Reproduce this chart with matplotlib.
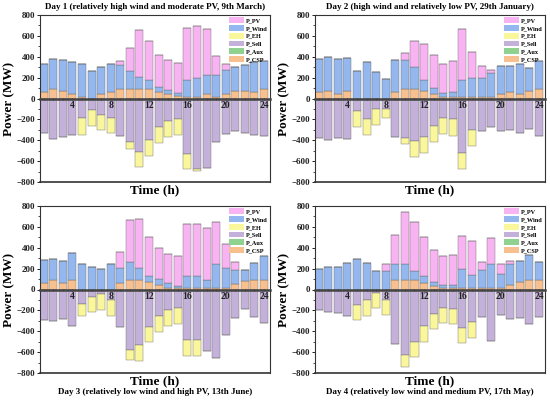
import numpy as np
import matplotlib
matplotlib.use("Agg")
import matplotlib.pyplot as plt
from matplotlib.ticker import MultipleLocator
from matplotlib.patches import Patch

plt.rcParams['font.family'] = ['Liberation Serif', 'DejaVu Serif']
plt.rcParams['font.weight'] = 'bold'

hours = list(range(1, 25))
series_names = ["P_PV", "P_Wind", "P_EH", "P_Sell", "P_Aux", "P_CSP"]
colors = {"P_PV": "#F8B4F2", "P_Wind": "#93B7EE", "P_EH": "#FAF69C",
          "P_Sell": "#C4B1D9", "P_Aux": "#8FD18F", "P_CSP": "#F8C08E"}

titles = ["Day 1 (relatively high wind and moderate PV, 9th March)",
          "Day 2 (high wind and relatively low PV, 29th January)",
          "Day 3 (relatively low wind and high PV, 13th June)",
          "Day 4 (relatively low wind and medium PV, 17th May)"]

# ---- Day 1 ----
d1_csp = [65,95,75,45,10,0,40,65,95,95,95,95,65,40,20,10,10,40,10,45,70,70,65,95]
d1_wind = [265,288,290,300,325,260,260,265,225,165,115,80,45,45,35,165,185,185,215,225,235,255,285,265]
d1_pv = [0,0,0,0,0,0,0,0,35,220,450,380,310,280,285,505,500,445,185,65,0,0,0,0]
d1_sell = [330,385,370,350,185,110,155,185,355,415,510,400,275,220,195,530,680,670,415,340,310,335,350,360]
d1_eh = [0,0,0,0,160,150,150,150,0,65,150,155,150,150,150,150,15,0,0,0,0,0,0,0]
d1_aux = [0]*24

# ---- Day 2 ----
d2_csp = [65,75,45,75,0,0,0,0,65,95,95,70,40,10,10,10,10,10,10,45,65,45,75,95]
d2_wind = [310,325,330,310,265,350,255,185,300,270,210,105,65,45,55,165,185,185,230,270,245,285,220,265]
d2_pv = [0,0,0,0,0,0,0,0,0,70,250,345,310,280,290,495,255,115,35,0,0,0,0,0]
d2_sell = [375,400,380,385,115,200,105,100,365,380,410,370,265,185,200,525,300,315,275,315,305,335,295,360]
d2_eh = [0,0,0,0,155,150,150,90,0,55,150,150,150,155,155,150,155,0,0,0,0,0,0,0]
d2_aux = [0]*24

# ---- Day 3 ----
d3_csp = [65,95,65,95,0,0,0,0,65,95,95,70,40,10,10,10,10,10,10,10,50,80,95,95]
d3_wind = [220,200,205,250,245,215,195,240,140,165,110,55,60,50,25,115,120,80,235,200,135,105,155,225]
d3_pv = [0,0,0,0,0,0,0,0,150,410,475,375,300,280,285,505,500,495,405,230,80,0,0,0]
d3_sell = [290,300,280,350,135,70,45,100,360,575,535,355,255,195,180,485,485,590,655,440,270,190,260,325]
d3_eh = [0,0,0,0,115,145,155,150,0,100,150,150,150,150,150,150,155,0,0,0,0,0,0,0]
d3_aux = [0]*24

# ---- Day 4 ----
d4_csp = [0,0,0,0,0,0,0,0,90,95,95,65,35,10,10,10,10,10,10,10,45,75,95,95]
d4_wind = [200,215,220,250,290,250,175,180,155,145,80,60,35,35,35,185,130,175,230,135,200,195,240,170]
d4_pv = [0,0,0,0,0,0,0,60,275,505,475,375,305,280,285,320,320,80,250,95,30,0,0,0]
d4_sell = [200,220,225,255,145,100,30,100,520,630,505,350,230,175,185,365,310,265,495,240,280,275,335,265]
d4_eh = [0,0,0,0,145,155,145,140,0,115,145,155,150,150,145,150,150,0,0,0,0,0,0,0]
d4_aux = [0]*24

days = [
    (d1_csp, d1_wind, d1_pv, d1_sell, d1_eh, d1_aux),
    (d2_csp, d2_wind, d2_pv, d2_sell, d2_eh, d2_aux),
    (d3_csp, d3_wind, d3_pv, d3_sell, d3_eh, d3_aux),
    (d4_csp, d4_wind, d4_pv, d4_sell, d4_eh, d4_aux),
]

W, H = 550, 401
fig = plt.figure(figsize=(W/100, H/100), dpi=100)

# panel boxes in pixels: left, right, top, bottom
boxes = [(40, 270, 15, 182), (315, 545, 15, 182), (40, 270, 206, 373), (315, 545, 206, 373)]
title_y = [7, 7, 392.5, 392.5]
xlabel_y = [190, 190, 381.5, 381.5]

edge = dict(edgecolor="#6a6a6a", linewidth=0.3)
bw = 0.84
for i, (box, data) in enumerate(zip(boxes, days)):
    l, r, t, b = box
    ax = fig.add_axes([l/W, 1-b/H, (r-l)/W, (b-t)/H])
    csp, wind, pv, sell, eh, aux = [np.array(a, dtype=float) for a in data]
    x = np.array(hours)
    ax.bar(x, csp, bw, color=colors["P_CSP"], **edge)
    ax.bar(x, wind, bw, bottom=csp, color=colors["P_Wind"], **edge)
    ax.bar(x, pv, bw, bottom=csp+wind, color=colors["P_PV"], **edge)
    ax.bar(x, aux, bw, bottom=csp+wind+pv, color=colors["P_Aux"], **edge)
    ax.bar(x, -sell, bw, color=colors["P_Sell"], **edge)
    ax.bar(x, -eh, bw, bottom=-sell, color=colors["P_EH"], **edge)

    ax.set_xlim(0.62, 24.62)
    ax.set_ylim(-800, 800)
    ax.spines['bottom'].set_position(('data', 0))
    ax.spines['bottom'].set_linewidth(1.8)
    ax.spines['bottom'].set_color('#444444')
    ax.spines['bottom'].set_zorder(5)
    for s in ['left', 'right', 'top']:
        ax.spines[s].set_linewidth(0.8)
        ax.spines[s].set_color('#333333')
    ax.plot([0, 1], [0, 0], transform=ax.transAxes, color='#333333', lw=1.2, clip_on=False)

    ax.xaxis.set_major_locator(MultipleLocator(4))
    ax.xaxis.set_minor_locator(MultipleLocator(1))
    ax.set_xticks([4, 8, 12, 16, 20, 24])
    ax.tick_params(axis='x', which='both', direction='inout', length=2, width=0.6, pad=1,
                   labelsize=7, colors='#222222')
    ax.set_yticks(np.arange(-800, 801, 200))
    ax.yaxis.set_minor_locator(MultipleLocator(100))
    ax.tick_params(axis='y', which='major', direction='out', length=2.5, width=0.6, pad=1,
                   labelsize=6.5)
    ax.tick_params(axis='y', which='minor', direction='out', length=1.5, width=0.5)
    for lab in ax.get_xticklabels() + ax.get_yticklabels():
        lab.set_fontweight('bold')
        lab.set_color('#222222')

    handles = [Patch(facecolor=colors[n], edgecolor='none') for n in series_names]
    ax.legend(handles, series_names, loc='upper right', frameon=False, fontsize=4.5,
              handlelength=2.4, handleheight=1.05, handletextpad=0.3, labelspacing=0.28,
              borderaxespad=0.15, borderpad=0.2)

    cx = (l + r) / 2 / W
    fig.text(cx, 1 - xlabel_y[i]/H, "Time (h)", ha='center', va='center', fontsize=9.5,
             fontweight='bold')
    fig.text(cx, 1 - title_y[i]/H, titles[i], ha='center', va='center', fontsize=6.5,
             fontweight='bold')
    fig.text((l - 31)/W, 1 - ((t + b)/2)/H, "Power (MW)", rotation=90, ha='center',
             va='center', fontsize=9.5, fontweight='bold')

fig.savefig("out.png", dpi=100)
